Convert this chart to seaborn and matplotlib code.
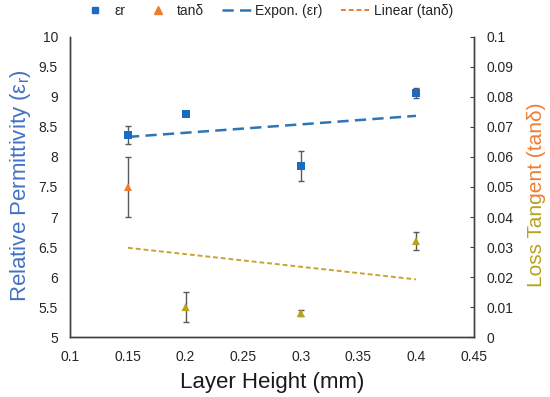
import matplotlib
matplotlib.use("Agg")
import matplotlib.pyplot as plt
from matplotlib.lines import Line2D
from matplotlib.transforms import Bbox
import seaborn as sns
import numpy as np

# data
layer_height = [0.15, 0.2, 0.3, 0.4]
eps_r = [8.37, 8.72, 7.85, 9.07]
eps_r_err = [0.15, 0.0, 0.25, 0.08]
tan_d = [0.050, 0.010, 0.008, 0.032]
tan_d_err = [0.010, 0.005, 0.001, 0.003]
tan_group = ["first", "rest", "rest", "rest"]

x_ticks = [0.1, 0.15, 0.2, 0.25, 0.3, 0.35, 0.4, 0.45]
x_labels = ["0.1", "0.15", "0.2", "0.25", "0.3", "0.35", "0.4", "0.45"]
left_ticks = [5, 5.5, 6, 6.5, 7, 7.5, 8, 8.5, 9, 9.5, 10]
left_labels = ["5", "5.5", "6", "6.5", "7", "7.5", "8", "8.5", "9", "9.5", "10"]
right_ticks = [0, 0.01, 0.02, 0.03, 0.04, 0.05, 0.06, 0.07, 0.08, 0.09, 0.1]
right_labels = ["0", "0.01", "0.02", "0.03", "0.04", "0.05", "0.06", "0.07", "0.08", "0.09", "0.1"]

blue_mk = "#1B6AC4"
blue_fit = "#2E75B6"
blue_lbl = "#4472C4"
orange = "#ED7D31"
olive = "#B9A21C"
gold_fit = "#C9A232"
grey = "#5A5A5A"

sns.set_theme(style="white")
plt.rcParams["font.family"] = ["Liberation Sans", "DejaVu Sans"]
plt.rcParams["mathtext.fontset"] = "custom"
plt.rcParams["mathtext.rm"] = "Liberation Sans"

fig = plt.figure(figsize=(5.5, 3.97), dpi=100)
ax = fig.add_axes([0.128, 0.151, 0.733, 0.756])
ax2 = ax.twinx()

# trend lines, fitted from the points
xs = np.linspace(min(layer_height), max(layer_height), 50)
b, a = np.polyfit(layer_height, np.log(eps_r), 1)
sns.lineplot(x=xs, y=np.exp(a) * np.exp(b * xs), ax=ax, color=blue_fit,
             lw=1.8, linestyle=(0, (4.5, 2.5)), zorder=2)
m, c = np.polyfit(layer_height, tan_d, 1)
sns.lineplot(x=xs, y=m * xs + c, ax=ax2, color=gold_fit, lw=1.4,
             linestyle=(0, (2.5, 1.5)), zorder=2)

# error bars
ax.errorbar(layer_height, eps_r, yerr=eps_r_err, fmt="none", ecolor=grey,
            elinewidth=1, capsize=2.5, capthick=1, zorder=2)
ax2.errorbar(layer_height, tan_d, yerr=tan_d_err, fmt="none", ecolor=grey,
             elinewidth=1, capsize=2.5, capthick=1, zorder=2)

# points
sns.scatterplot(x=layer_height, y=eps_r, ax=ax, marker="s", color=blue_mk,
                s=30, linewidth=0, legend=False, zorder=3)
sns.scatterplot(x=layer_height, y=tan_d, hue=tan_group, ax=ax2, marker="^",
                palette={"first": orange, "rest": olive}, s=34, linewidth=0,
                legend=False, zorder=3)

ax.set_xlim(0.1, 0.45)
ax.set_ylim(5, 10)
ax2.set_ylim(0, 0.1)
ax.set_xticks(x_ticks, x_labels)
ax.set_yticks(left_ticks, left_labels)
ax2.set_yticks(right_ticks, right_labels)

for a_ in (ax, ax2):
    for s in a_.spines.values():
        s.set_color("#404040")
        s.set_linewidth(1)
    a_.spines["top"].set_visible(False)
    a_.grid(False)
ax.tick_params(axis="both", length=0, pad=9, labelsize=10, labelcolor="#262626")
ax2.tick_params(axis="y", direction="in", length=3, width=0.8, color="#404040",
                pad=9, labelsize=10, labelcolor="#262626")

ax.set_xlabel("Layer Height (mm)", fontsize=16, color="#1a1a1a", labelpad=6)
ax.set_ylabel("")
ax2.set_ylabel("")
fig.text(21 / 550, 1 - 186 / 397, "Relative Permittivity (ε$_\\mathregular{r}$)",
         rotation=90, ha="center", va="center", fontsize=16, color=blue_lbl)

# right label shades from olive at the bottom to orange at the top
split = 397 - 200
for col, box in [(olive, Bbox.from_extents(480, 0, 550, split)),
                 (orange, Bbox.from_extents(480, split, 550, 397))]:
    t = fig.text(536 / 550, 1 - 195 / 397, "Loss Tangent (tanδ)", rotation=90,
                 ha="center", va="center", fontsize=15, color=col)
    t.set_clip_on(True)
    t.set_clip_box(box)

handles = [
    Line2D([], [], marker="s", color=blue_mk, linestyle="none", markersize=5),
    Line2D([], [], marker="^", color=orange, linestyle="none", markersize=6),
    Line2D([], [], color=blue_fit, lw=1.8, linestyle=(0, (4.5, 2.5))),
    Line2D([], [], color=orange, lw=1.4, linestyle=(0, (2.5, 1.5))),
]
fig.legend(handles, ["εr", "tanδ", "Expon. (εr)", "Linear (tanδ)"],
           loc="center", bbox_to_anchor=(267 / 550, 1 - 11 / 397), ncol=4,
           frameon=False, fontsize=10, handlelength=2.1, handletextpad=0.3,
           columnspacing=1.3, labelcolor="#262626")

fig.savefig("out.png", dpi=100)
